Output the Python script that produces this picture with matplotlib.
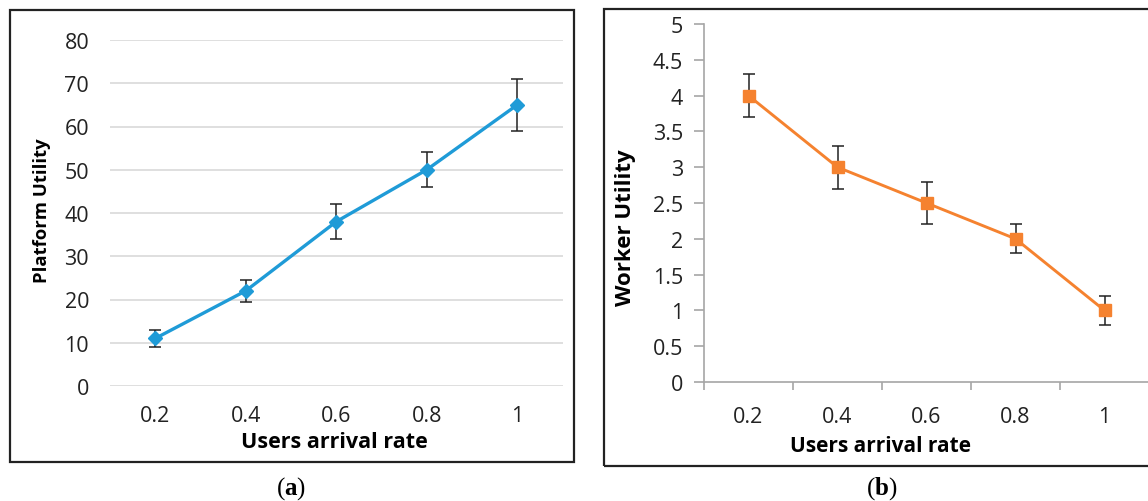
import numpy as np
import matplotlib
matplotlib.use("Agg")
import matplotlib.pyplot as plt
from matplotlib.patches import Rectangle

plt.rcParams['font.family'] = ['Open Sans', 'DejaVu Sans']
plt.rcParams['mathtext.fontset'] = 'custom'
plt.rcParams['mathtext.rm'] = 'Liberation Serif'
plt.rcParams['mathtext.bf'] = 'Liberation Serif:bold'

rates = ["0.2", "0.4", "0.6", "0.8", "1"]

platform = [11, 22, 38, 50, 65]
platform_err = [2, 2.5, 4, 4, 6]

worker = [4, 3, 2.5, 2, 1]
worker_err = [0.3, 0.3, 0.3, 0.2, 0.2]

blue = "#1F9BD7"
orange = "#F5822F"

W, H = 1148, 502
fig = plt.figure(figsize=(W / 100, H / 100), dpi=100)


def frac(x0, y0, x1, y1):
    return [x0 / W, 1 - y1 / H, (x1 - x0) / W, (y1 - y0) / H]


def place_label(axis, px, py):
    # centre an axis label on a pixel position of the figure
    axis.label.set_va("center")
    axis.label.set_ha("center")
    axis.set_label_coords(px / W, 1 - py / H, transform=fig.transFigure)


# frames around both panels
fig.patches.append(Rectangle((10 / W, 1 - 463 / H), 564 / W, 452 / H, transform=fig.transFigure,
                             fill=False, ec="#222222", lw=1.6))
fig.patches.append(Rectangle((604 / W, 1 - 467 / H), 560 / W, 457 / H, transform=fig.transFigure,
                             fill=False, ec="#222222", lw=1.6, clip_on=False))

x = np.arange(len(rates))

# (a) platform utility
ax1 = fig.add_axes(frac(110, 41, 562.5, 387))
ax1.errorbar(x, platform, yerr=platform_err, color=blue, lw=2.4, marker="D", ms=7.5,
             ecolor="#222222", elinewidth=1.1, capsize=4.5, capthick=1.1, zorder=3)
ax1.set_xlim(-0.5, 4.5)
ax1.set_ylim(0, 80)
ax1.set_yticks(np.arange(0, 81, 10))
ax1.set_xticks(x)
ax1.set_xticklabels(rates)
ax1.grid(axis="y", color="#D9D9D9", lw=1.2)
ax1.set_axisbelow(True)
for s in ax1.spines.values():
    s.set_visible(False)
ax1.tick_params(axis="both", length=0, labelsize=15.5, labelcolor="#222222")
ax1.tick_params(axis="y", pad=15)
ax1.tick_params(axis="x", pad=14)
ax1.set_xlabel("Users arrival rate", fontsize=15.5, fontweight="bold")
ax1.set_ylabel("Platform Utility", fontsize=13.3, fontweight="bold")
place_label(ax1.xaxis, 334, 443)
place_label(ax1.yaxis, 42, 211)

# (b) worker utility
ax2 = fig.add_axes(frac(704, 25, 1149, 383))
ax2.errorbar(x, worker, yerr=worker_err, color=orange, lw=2.1, marker="s", ms=9,
             ecolor="#222222", elinewidth=1.1, capsize=4.5, capthick=1.1, zorder=3)
ax2.set_xlim(-0.5, 4.5)
ax2.set_ylim(0, 5)
ax2.set_yticks(np.arange(0, 5.01, 0.5))
ax2.set_yticklabels(["0", "0.5", "1", "1.5", "2", "2.5", "3", "3.5", "4", "4.5", "5"])
ax2.set_xticks(x)
ax2.set_xticklabels(rates)
ax2.set_xticks(np.arange(-0.5, 4.6, 1), minor=True)
ax2.spines["top"].set_visible(False)
ax2.spines["right"].set_visible(False)
for s in ("left", "bottom"):
    ax2.spines[s].set_color("#A6A6A6")
    ax2.spines[s].set_linewidth(1.2)
ax2.tick_params(axis="x", which="major", length=0, labelsize=15.5, labelcolor="#222222", pad=17)
ax2.tick_params(axis="x", which="minor", length=6, color="#A6A6A6", width=1.2)
ax2.tick_params(axis="y", length=7, color="#A6A6A6", width=1.2, labelsize=15.5,
                labelcolor="#222222", pad=8)
ax2.set_xlabel("Users arrival rate", fontsize=15, fontweight="bold")
ax2.set_ylabel("Worker Utility", fontsize=16, fontweight="bold")
place_label(ax2.xaxis, 880, 447)
place_label(ax2.yaxis, 625, 228)

fig.text(291 / W, 1 - 489 / H, r"($\mathbf{a}$)", family="Liberation Serif", fontsize=18,
         ha="center", va="center")
fig.text(882 / W, 1 - 489 / H, r"($\mathbf{b}$)", family="Liberation Serif", fontsize=18,
         ha="center", va="center")

fig.savefig("out.png", dpi=100)
